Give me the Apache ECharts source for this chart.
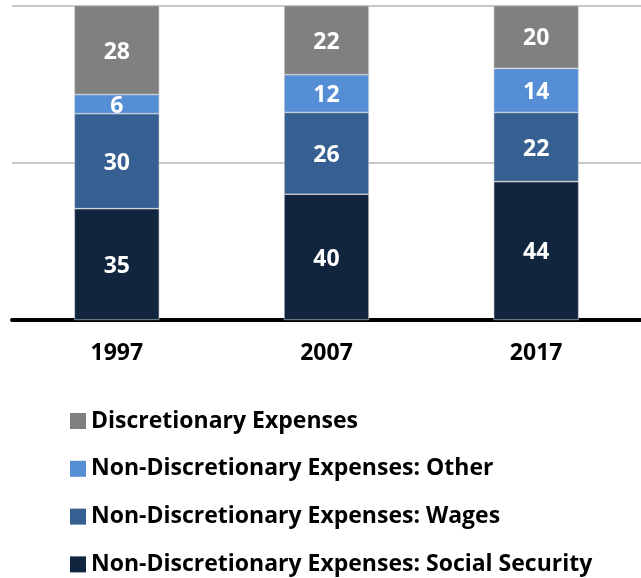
<!DOCTYPE html>
<html><head><meta charset="utf-8">
<script src="https://cdn.jsdelivr.net/npm/echarts@6/dist/echarts.min.js"></script>
<style>html,body{margin:0;padding:0;background:#fff}#c{width:641px;height:578px}</style>
</head><body><div id="c"></div>
<script>
const categories = ['1997', '2007', '2017'];
const socialSecurity = [35.4, 40, 44];
const wages = [30.2, 26, 22];
const other = [6.1, 12, 14];
const discretionary = [28.3, 22, 20];
const yTicks = [0, 50, 100];

const names = {
  ss: 'Non-Discretionary Expenses: Social Security',
  wages: 'Non-Discretionary Expenses: Wages',
  other: 'Non-Discretionary Expenses: Other',
  disc: 'Discretionary Expenses'
};
const FONT = '"Open Sans", sans-serif';
function mk(name, data, color) {
  return {
    name, type: 'bar', stack: 'total', data,
    barWidth: 85,
    itemStyle: { color, borderColor: '#d9d9d9', borderWidth: 0.6 },
    label: {
      show: true, position: 'inside', color: '#fff', fontWeight: 'bold',
      fontFamily: FONT, fontSize: 23, offset: [0, 2],
      formatter: p => Math.round(p.value)
    }
  };
}
const chart = echarts.init(document.getElementById('c'));
chart.setOption({
  animation: false,
  grid: { left: 12, right: 0, top: 5.5, bottom: 258, containLabel: false },
  legend: {
    orient: 'vertical', left: 70, top: 409, height: 169, padding: 0,
    itemWidth: 16, itemHeight: 16, itemGap: 23.8,
    icon: 'rect',
    itemStyle: { borderWidth: 0 },
    data: [names.disc, names.other, names.wages, names.ss],
    textStyle: { fontFamily: FONT, fontWeight: 'bold', fontSize: 23, color: '#000', lineHeight: 24 }
  },
  xAxis: {
    type: 'category', data: categories,
    axisLine: { lineStyle: { color: '#000', width: 4 } },
    axisTick: { show: false },
    axisLabel: { fontFamily: FONT, fontWeight: 'bold', fontSize: 23, color: '#000', margin: 22 }
  },
  yAxis: {
    type: 'value', min: yTicks[0], max: yTicks[yTicks.length - 1], interval: 50,
    axisLabel: { show: false }, axisLine: { show: false }, axisTick: { show: false },
    splitLine: { lineStyle: { color: '#c8c8c8', width: 2 } }
  },
  series: [
    mk(names.ss, socialSecurity, '#11253F'),
    mk(names.wages, wages, '#366092'),
    mk(names.other, other, '#558ED5'),
    mk(names.disc, discretionary, '#808080')
  ]
});
</script></body></html>
